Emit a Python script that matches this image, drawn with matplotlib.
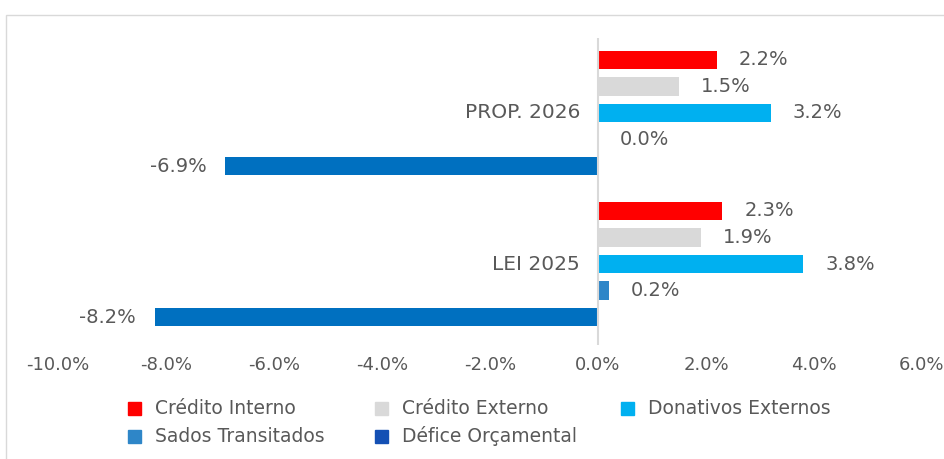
import matplotlib
matplotlib.use('Agg')
import matplotlib.pyplot as plt
from matplotlib.patches import Rectangle
import numpy as np

# data (% values)
categories = ['PROP. 2026', 'LEI 2025']
series_names = ['Crédito Interno', 'Crédito Externo', 'Donativos Externos',
                'Sados Transitados', 'Défice Orçamental']
credito_interno = [2.2, 2.3]
credito_externo = [1.5, 1.9]
donativos_externos = [3.2, 3.8]
saldos_transitados = [0.0, 0.2]
defice_orcamental = [-6.9, -8.2]
x_ticks = [-10, -8, -6, -4, -2, 0, 2, 4, 6]

series_values = [credito_interno, credito_externo, donativos_externos,
                 saldos_transitados, defice_orcamental]
bar_colors = ['#FF0000', '#D9D9D9', '#00B0F0', '#2E86C8', '#0070C0']
legend_colors = ['#FF0000', '#D9D9D9', '#00B0F0', '#2E86C8', '#1450B4']
text_color = '#595959'

W, H = 945, 459
fig = plt.figure(figsize=(W / 100, H / 100), dpi=100, facecolor='w')

# outer chart border (cut at right / bottom like the screenshot)
fig.add_artist(Rectangle((6 / W, -0.05), 1.1, 1 - 15 / H + 0.05,
                         transform=fig.transFigure, fill=False,
                         ec='#D9D9D9', lw=1.0))

ax = fig.add_axes([58 / W, 1 - 345 / H, (922 - 58) / W, (345 - 38) / H])

step = 0.1755
height = 0.122
ypos = np.arange(len(categories))
for k, (vals, col) in enumerate(zip(series_values, bar_colors)):
    y = ypos + (k - 2) * step
    ax.barh(y, vals, height=height, color=col, zorder=2)
    for yy, v in zip(y, vals):
        if v >= 0:
            ax.annotate('%.1f%%' % v, (v, yy), xytext=(22, 0),
                        textcoords='offset pixels', ha='left', va='center',
                        fontsize=14, color=text_color)
        else:
            ax.annotate('%.1f%%' % v, (v, yy), xytext=(-19, 0),
                        textcoords='offset pixels', ha='right', va='center',
                        fontsize=14, color=text_color)

# category labels next to the zero axis
for i, cat in enumerate(categories):
    ax.annotate(cat, (0, i), xytext=(-18, 0), textcoords='offset pixels',
                ha='right', va='center', fontsize=14.5, color=text_color)

ax.axvline(0, color='#D9D9D9', lw=1.5, zorder=3)

ax.set_xlim(-10, 6)
ax.set_ylim(1 + (345 - 264) / 151, -(113 - 38) / 151)
ax.set_xticks(x_ticks)
ax.set_xticklabels(['%.1f%%' % t for t in x_ticks])
ax.tick_params(axis='x', length=0, pad=8, labelsize=13, labelcolor=text_color)
ax.set_yticks([])
for s in ax.spines.values():
    s.set_visible(False)

# legend, laid out row by row like the original
leg_cols = [128, 375, 621]
leg_rows = [408, 436]
for k, (name, col) in enumerate(zip(series_names, legend_colors)):
    px = leg_cols[k % 3]
    py = leg_rows[k // 3]
    fig.add_artist(Rectangle((px / W, 1 - (py + 6.5) / H), 13 / W, 13 / H,
                             transform=fig.transFigure, color=col))
    fig.text((px + 27) / W, 1 - py / H, name, ha='left', va='center',
             fontsize=13.5, color=text_color)

plt.savefig('out.png', dpi=100)
